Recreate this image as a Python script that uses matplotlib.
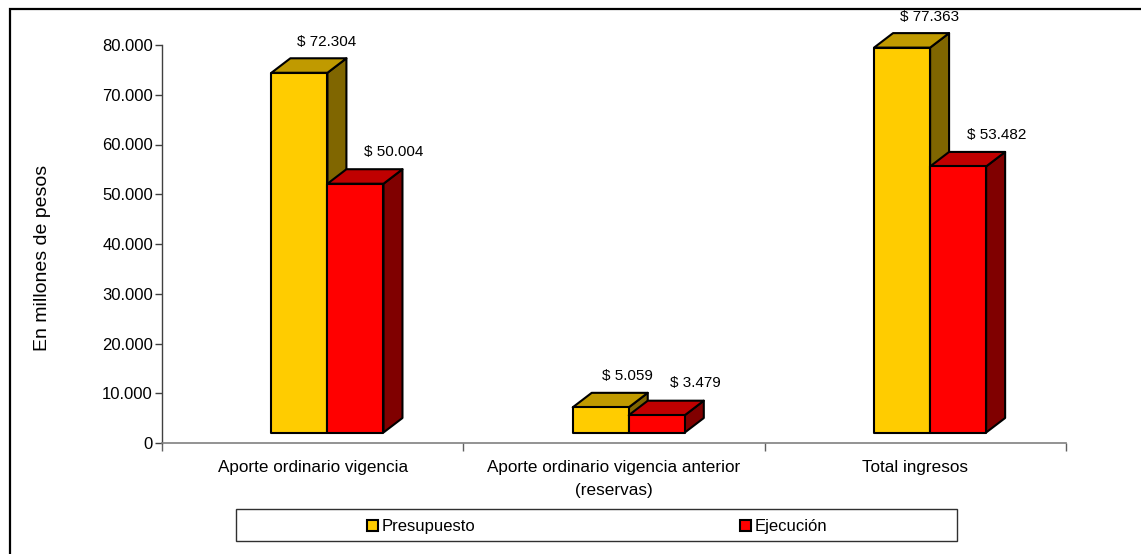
import matplotlib
matplotlib.use("Agg")
import matplotlib.pyplot as plt
from matplotlib.patches import Polygon, Rectangle
from matplotlib.ticker import FuncFormatter

plt.rcParams['font.family'] = ['Liberation Sans', 'DejaVu Sans']

# --- data (millones de pesos) ---
categorias = ["Aporte ordinario vigencia",
              "Aporte ordinario vigencia anterior\n(reservas)",
              "Total ingresos"]
presupuesto = [72304, 5059, 77363]
ejecucion = [50004, 3479, 53482]
series = ["Presupuesto", "Ejecución"]

# front / top / side shades for each series
col_pre = ("#FFCC00", "#C09A00", "#806600")
col_eje = ("#FF0000", "#C00000", "#800000")

W, H = 1141, 554
fig = plt.figure(figsize=(W / 100, H / 100), dpi=100)
ax = fig.add_axes([162 / W, (H - 443) / H, (1066 - 162) / W, (443 - 45) / H])
ax.set_xlim(0, 3)
ax.set_ylim(0, 80000)

bw = 0.186          # bar width (category units)
x0 = 0.363          # left of first bar inside category
ddx = 0.063         # depth shift in x
ddy = 2915          # depth shift in y
floor = 2110        # front faces sit a little above the axis


def bar3d(ax, left, val, cols):
    b, t = floor, floor + val
    r = left + bw
    kw = dict(edgecolor="black", linewidth=1.5, joinstyle="round", clip_on=False)
    ax.add_patch(Polygon([(r, b), (r + ddx, b + ddy), (r + ddx, t + ddy), (r, t)],
                         facecolor=cols[2], **kw))
    ax.add_patch(Polygon([(left, t), (left + ddx, t + ddy), (r + ddx, t + ddy), (r, t)],
                         facecolor=cols[1], **kw))
    ax.add_patch(Rectangle((left, b), bw, val, facecolor=cols[0], **kw))


def miles(v):
    return "{:,.0f}".format(v).replace(",", ".")


for i in range(len(categorias)):
    xl = i + x0
    bar3d(ax, xl, presupuesto[i], col_pre)
    bar3d(ax, xl + bw, ejecucion[i], col_eje)
    ax.text(xl + bw / 2 + 0.09, presupuesto[i] + floor + 6200,
            "$ " + miles(presupuesto[i]),
            ha="center", va="center", fontsize=11, clip_on=False)
    ax.text(xl + 1.5 * bw + 0.127, ejecucion[i] + floor + 6400,
            "$ " + miles(ejecucion[i]),
            ha="center", va="center", fontsize=11, clip_on=False)

# axes styling
for s in ("top", "right"):
    ax.spines[s].set_visible(False)
ax.spines["left"].set_color("#404040")
ax.spines["bottom"].set_color("#808080")
ax.spines["left"].set_linewidth(1.0)
ax.spines["bottom"].set_linewidth(1.2)

ax.set_yticks(range(0, 80001, 10000))
ax.yaxis.set_major_formatter(FuncFormatter(lambda v, p: miles(v)))
ax.tick_params(axis="y", length=5, width=1, color="#404040", pad=1.5, labelsize=12)

ax.set_xticks([0, 1, 2, 3])
ax.set_xticklabels([])
ax.set_xticks([0.5, 1.5, 2.5], minor=True)
ax.set_xticklabels(categorias, minor=True, fontsize=12.3, linespacing=1.7)
ax.tick_params(axis="x", which="major", length=6, width=1, color="#606060")
ax.tick_params(axis="x", which="minor", length=0, pad=12)

fig.text(43 / W, 1 - 258 / H, "En millones de pesos", rotation=90,
         ha="center", va="center", fontsize=14)

# legend box drawn by hand
lx0, lx1, ly0, ly1 = 236, 957, 509, 541
fig.patches.append(Rectangle((lx0 / W, 1 - ly1 / H), (lx1 - lx0) / W, (ly1 - ly0) / H,
                             transform=fig.transFigure, facecolor="white",
                             edgecolor="#303030", linewidth=1.0))
ent_x = [367, 740]
for xm, name, cols in zip(ent_x, series, (col_pre, col_eje)):
    fig.patches.append(Rectangle((xm / W, 1 - 531 / H), 11 / W, 11 / H,
                                 transform=fig.transFigure, facecolor=cols[0],
                                 edgecolor="black", linewidth=1.5))
    fig.text((xm + 15) / W, 1 - 526 / H, name, ha="left", va="center", fontsize=12)

# outer frame (only left and top edges fall inside the image)
fig.patches.append(Rectangle((9.5 / W, -0.05), 1.2, 1 - 9 / H + 0.05,
                             transform=fig.transFigure, fill=False,
                             edgecolor="black", linewidth=1.6))

fig.savefig("out.png", dpi=100)
